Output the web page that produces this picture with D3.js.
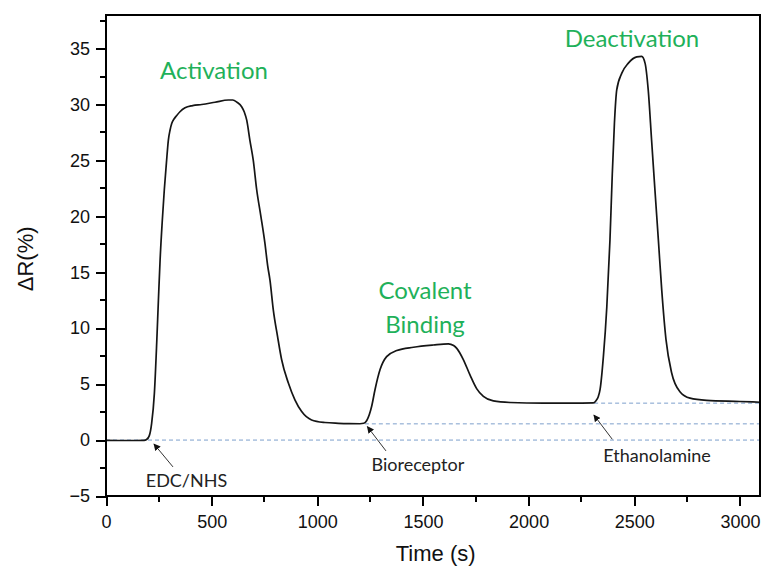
<!DOCTYPE html>
<html>
<head>
<meta charset="utf-8">
<script src="https://cdn.jsdelivr.net/npm/d3@7"></script>
<style>
  html, body { margin: 0; padding: 0; background: #fff; }
  svg { display: block; }
</style>
</head>
<body>
<svg id="chart" width="763" height="569"></svg>
<script>
// ---------------- data ----------------
const timeS = [0, 100, 180, 192, 205, 216, 229, 240, 248, 256, 266, 276, 286, 295, 303, 311, 322, 334, 350, 374, 410, 453, 516, 579, 600, 620, 642, 655, 666, 681, 697, 713, 733, 752, 765, 776, 792, 812, 831, 863, 894, 926, 973, 1036, 1100, 1150, 1202, 1220, 1234, 1257, 1273, 1297, 1328, 1376, 1455, 1549, 1620, 1645, 1660, 1691, 1723, 1754, 1786, 1833, 1912, 2070, 2200, 2306, 2318, 2330, 2338, 2354, 2370, 2385, 2396, 2406, 2417, 2441, 2472, 2512, 2535, 2551, 2566, 2582, 2598, 2614, 2630, 2650, 2677, 2717, 2764, 2843, 3000, 3095];
const deltaR = [-0.03, -0.04, -0.02, 0.05, 0.4, 1.5, 4.2, 8.7, 12.5, 16.1, 19.5, 22.4, 24.8, 26.8, 27.7, 28.3, 28.7, 29.0, 29.35, 29.7, 29.9, 30.0, 30.2, 30.4, 30.4, 30.2, 29.8, 29.3, 28.6, 26.8, 25.0, 22.4, 20.0, 17.6, 15.6, 14.3, 11.6, 9.25, 7.2, 5.1, 3.6, 2.55, 1.8, 1.57, 1.5, 1.47, 1.46, 1.5, 1.75, 3.0, 4.5, 6.3, 7.46, 8.0, 8.3, 8.5, 8.6, 8.45, 8.2, 7.2, 5.8, 4.6, 3.9, 3.5, 3.36, 3.3, 3.3, 3.33, 3.5, 3.9, 4.5, 7.5, 11.9, 17.9, 23.8, 28.3, 31.3, 32.8, 33.7, 34.25, 34.3, 33.7, 31.3, 26.8, 22.3, 17.9, 13.4, 9.0, 6.0, 4.3, 3.75, 3.55, 3.45, 3.38];

// reference (dashed) baselines: level and start time
const baseLevels = [0, 1.45, 3.3];
const baseStarts = [0, 1225, 2310];

// phase labels (green)
const phaseLabels = [["Activation"], ["Covalent", "Binding"], ["Deactivation"]];
const phaseX = [511, 1510, 2489];
const phaseY = [32.3, 12.6, 35.17];

// injection labels with arrows
const injLabels = ["EDC/NHS", "Bioreceptor", "Ethanolamine"];
const injTextX = [381, 1476, 2608];
const injTextY = [-4.17, -2.74, -1.98];
const arrowTipT = [227, 1237, 2309];
const arrowTipV = [-0.35, 1.2, 2.24];
const arrowTailT = [317, 1325, 2396];
const arrowTailV = [-2.4, -0.97, 0.07];

const xMajorTicks = [0, 500, 1000, 1500, 2000, 2500, 3000];
const xMinorTicks = [250, 750, 1250, 1750, 2250, 2750];
const yMajorTicks = [-5, 0, 5, 10, 15, 20, 25, 30, 35];
const yMinorTicks = [-2.5, 2.5, 7.5, 12.5, 17.5, 22.5, 27.5, 32.5, 37.5];

const xLabel = "Time (s)";
const yLabel = "ΔR(%)";

// ---------------- layout ----------------
const svg = d3.select("#chart");
const m = { left: 106, top: 15, right: 3, bottom: 73 };
const W = 763 - m.left - m.right;
const H = 569 - m.top - m.bottom;
const g = svg.append("g").attr("transform", `translate(${m.left},${m.top})`);

const x = d3.scaleLinear().domain([0, 3095]).range([0, W]);
const y = d3.scaleLinear().domain([-5, 38]).range([H, 0]);

const axisFont = "'Liberation Sans', Arial, sans-serif";
const annFont = "Lato, 'Open Sans', sans-serif";

// dashed baselines
g.append("g").selectAll("line").data(baseLevels).join("line")
  .attr("x1", (d, i) => x(baseStarts[i]))
  .attr("x2", x(3095))
  .attr("y1", d => y(d)).attr("y2", d => y(d))
  .attr("stroke", "#7d9fcc").attr("stroke-width", 1)
  .attr("stroke-dasharray", "4,3");

// curve
const pts = timeS.map((t, i) => [t, deltaR[i]]);
g.append("path").datum(pts)
  .attr("fill", "none").attr("stroke", "#151515").attr("stroke-width", 1.7)
  .attr("stroke-linejoin", "round")
  .attr("d", d3.line().x(d => x(d[0])).y(d => y(d[1])).curve(d3.curveMonotoneX));

// axes
const xAxis = g.append("g").attr("transform", `translate(0,${H})`)
  .call(d3.axisBottom(x).tickValues(xMajorTicks).tickSize(10).tickSizeOuter(0).tickPadding(9).tickFormat(d3.format("d")));
xAxis.append("g").selectAll("line").data(xMinorTicks).join("line")
  .attr("x1", d => x(d)).attr("x2", d => x(d)).attr("y1", 0).attr("y2", 6);
const yAxis = g.append("g")
  .call(d3.axisLeft(y).tickValues(yMajorTicks).tickSize(10).tickSizeOuter(0).tickPadding(6).tickFormat(d3.format("d")));
yAxis.append("g").selectAll("line").data(yMinorTicks).join("line")
  .attr("y1", d => y(d)).attr("y2", d => y(d)).attr("x1", 0).attr("x2", -6);

[xAxis, yAxis].forEach(a => {
  a.select(".domain").remove();
  a.selectAll("line").attr("stroke", "#000").attr("stroke-width", 2)
    .attr("shape-rendering", "crispEdges");
  a.selectAll("text").attr("font-family", axisFont).attr("font-size", 18).attr("fill", "#111");
});

// frame
g.append("rect").attr("x", 0).attr("y", 0).attr("width", W).attr("height", H)
  .attr("fill", "none").attr("stroke", "#000").attr("stroke-width", 2)
  .attr("shape-rendering", "crispEdges");

// axis titles
svg.append("text").attr("x", m.left + x(1560)).attr("y", 561)
  .attr("text-anchor", "middle").attr("font-family", axisFont).attr("font-size", 22).attr("fill", "#111")
  .text(xLabel);
svg.append("text").attr("transform", `translate(33,${m.top + y(16.2)}) rotate(-90)`)
  .attr("text-anchor", "middle").attr("font-family", axisFont).attr("font-size", 22).attr("fill", "#111")
  .text(yLabel);

// phase labels
phaseLabels.forEach((lines, i) => {
  lines.forEach((txt, j) => {
    g.append("text")
      .attr("x", x(phaseX[i]))
      .attr("y", y(phaseY[i]) + j * 33.4)
      .attr("text-anchor", "middle").attr("font-family", annFont).attr("font-size", 24)
      .attr("fill", "#1fb15a").text(txt);
  });
});

// arrowhead marker
svg.append("defs").append("marker")
  .attr("id", "ah").attr("viewBox", "0 0 10 10").attr("refX", 9).attr("refY", 5)
  .attr("markerWidth", 7).attr("markerHeight", 7).attr("markerUnits", "userSpaceOnUse")
  .attr("orient", "auto")
  .append("path").attr("d", "M0,0 L10,5 L0,10 z").attr("fill", "#111");

injLabels.forEach((txt, i) => {
  g.append("line")
    .attr("x1", x(arrowTailT[i])).attr("y1", y(arrowTailV[i]))
    .attr("x2", x(arrowTipT[i])).attr("y2", y(arrowTipV[i]))
    .attr("stroke", "#333").attr("stroke-width", 1).attr("marker-end", "url(#ah)");
  g.append("text")
    .attr("x", x(injTextX[i])).attr("y", y(injTextY[i]))
    .attr("text-anchor", "middle").attr("font-family", annFont).attr("font-size", 18)
    .attr("fill", "#222").text(txt);
});
</script>
</body>
</html>
